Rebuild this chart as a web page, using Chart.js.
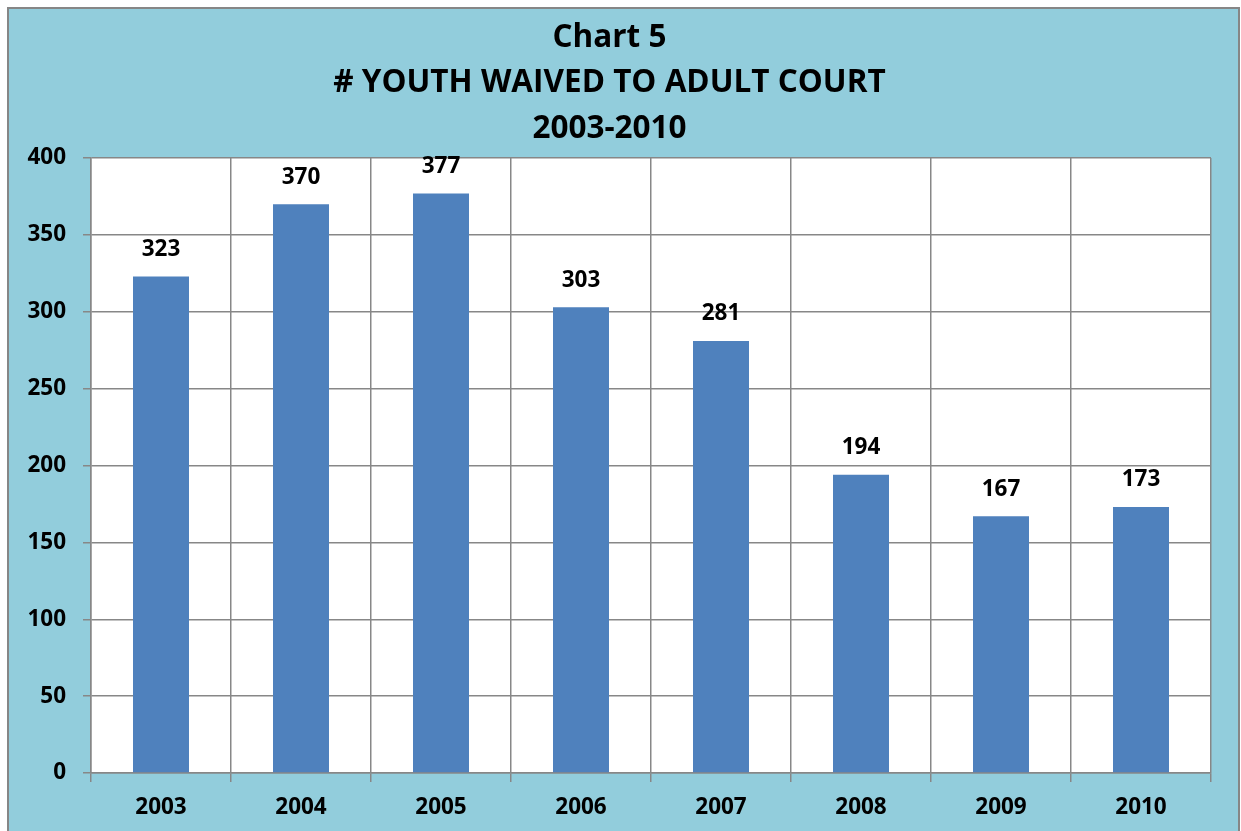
<!DOCTYPE html>
<html><head><meta charset="utf-8">
<script src="https://cdn.jsdelivr.net/npm/chart.js@4"></script>
<style>html,body{margin:0;padding:0;background:#fff;}#wrap{position:absolute;left:0;top:0;width:1241px;height:831px;}</style>
</head><body><div id="wrap"><canvas id="c"></canvas></div>
<script>
const titleLines = ['Chart 5', '# YOUTH WAIVED TO ADULT COURT', '2003-2010'];
const years = ['2003','2004','2005','2006','2007','2008','2009','2010'];
const youthWaived = [323, 370, 377, 303, 281, 194, 167, 173];
const yTicks = [0, 50, 100, 150, 200, 250, 300, 350, 400];

const FONT = "'Open Sans', 'DejaVu Sans', sans-serif";
const GRID = '#878787';

const bgPlugin = {
  id: 'bg',
  beforeDraw(chart) {
    const ctx = chart.ctx;
    ctx.save();
    ctx.fillStyle = '#ffffff';
    ctx.fillRect(0, 0, chart.width, chart.height);
    ctx.fillStyle = '#92CDDC';
    ctx.fillRect(8, 8, 1231, 830);
    ctx.strokeStyle = '#868686';
    ctx.lineWidth = 2;
    ctx.strokeRect(8, 8, 1231, 830);
    const a = chart.chartArea;
    ctx.fillStyle = '#ffffff';
    ctx.fillRect(a.left, a.top, a.right - a.left, a.bottom - a.top);
    ctx.restore();
  }
};

const labelPlugin = {
  id: 'vals',
  afterDatasetsDraw(chart) {
    const ctx = chart.ctx;
    const meta = chart.getDatasetMeta(0);
    ctx.save();
    ctx.font = "bold 22.5px " + FONT;
    ctx.fillStyle = '#000';
    ctx.textAlign = 'center';
    ctx.textBaseline = 'middle';
    meta.data.forEach((bar, i) => {
      ctx.fillText(String(youthWaived[i]), bar.x, bar.y - 27);
    });
    ctx.restore();
  }
};

new Chart(document.getElementById('c'), {
  type: 'bar',
  data: {
    labels: years,
    datasets: [{
      data: youthWaived,
      backgroundColor: '#4F81BD',
      borderWidth: 0,
      categoryPercentage: 1.0,
      barPercentage: 0.4
    }]
  },
  options: {
    responsive: true,
    maintainAspectRatio: false,
    animation: false,
    devicePixelRatio: 1,
    layout: { padding: { left: 8, right: 30, top: 15, bottom: 0 } },
    plugins: {
      legend: { display: false },
      tooltip: { enabled: false },
      title: {
        display: true,
        text: titleLines,
        color: '#000',
        font: { family: FONT, size: 31.5, weight: 'bold', lineHeight: 1.45 },
        padding: { top: 0, bottom: 6 }
      }
    },
    scales: {
      x: {
        grid: { color: GRID, lineWidth: 1.5, offset: true, tickLength: 9, drawTicks: true },
        border: { color: GRID, width: 1.5 },
        ticks: { color: '#000', font: { family: FONT, size: 22.5, weight: 'bold' }, padding: 12, maxRotation: 0 },
        afterFit(s) { s.height = 58; }
      },
      y: {
        min: 0, max: 400,
        afterBuildTicks(s) { s.ticks = yTicks.map(v => ({ value: v })); },
        grid: { color: GRID, lineWidth: 1.5, tickLength: 8 },
        border: { color: GRID, width: 1.5 },
        ticks: { color: '#000', font: { family: FONT, size: 22.5, weight: 'bold' }, padding: 17 },
        afterFit(s) { s.width = 83; }
      }
    }
  },
  plugins: [bgPlugin, labelPlugin]
});
</script>
</body></html>
